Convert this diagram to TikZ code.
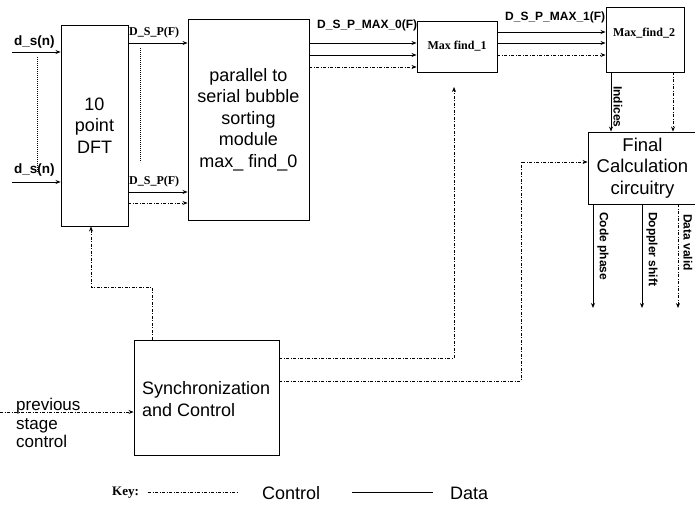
\documentclass[tikz,border=0pt]{standalone}
\usepackage{fontspec}
\setmainfont{Liberation Sans}
\newfontfamily\serifbold{Liberation Serif}
\usetikzlibrary{arrows.meta}

\begin{document}
\begin{tikzpicture}[x=1pt,y=-1pt,
  box/.style={draw, line width=0.9pt, inner sep=0pt, align=center,
    font=\fontsize{18}{21.5}\selectfont},
  data/.style={line width=0.9pt, -{Stealth[length=5pt,width=4pt]}},
  ctrl/.style={line width=0.7pt, dash pattern=on 3pt off 1.6pt on 0.8pt off 1.6pt,
    -{Stealth[length=5pt,width=4pt]}},
  ctrlline/.style={line width=0.7pt, dash pattern=on 3pt off 1.6pt on 0.8pt off 1.6pt},
  dots/.style={line width=0.7pt, dash pattern=on 0.8pt off 1.2pt},
  sig/.style={font=\bfseries\fontsize{12}{14}\selectfont, inner sep=0pt},
  sigbig/.style={font=\bfseries\fontsize{13.5}{15}\selectfont, inner sep=0pt},
  sigserif/.style={font=\serifbold\bfseries\fontsize{12}{14}\selectfont, inner sep=0pt},
  plain/.style={inner sep=0pt, align=left, font=\fontsize{18}{22}\selectfont}]

\useasboundingbox (0,0) rectangle (695,504);

% ---- blocks ----
\node[box, minimum width=67pt, minimum height=201pt] (dft) at (94.5,125.5)
  {10\\point\\DFT};
\node[box, minimum width=121pt, minimum height=201pt] (sort) at (248.5,119.5)
  {parallel to\\serial bubble\\sorting\\module\\max\_ find\_0};
\node[box, minimum width=80pt, minimum height=51pt, font=\serifbold\bfseries\fontsize{12}{14}\selectfont]
  (mf1) at (457,46.5) {Max find\_1};
\node[box, minimum width=78pt, minimum height=65pt] (mf2) at (645,39.5) {};
\node[sigserif] (mf2txt) at (644,33) {Max\_find\_2};
\node[box, minimum width=109pt, minimum height=72pt, font=\fontsize{18.5}{21.5}\selectfont]
  (fin) at (642.5,168) {Final\\Calculation\\circuitry};
\node[box, minimum width=145pt, minimum height=115pt] (sync) at (206.5,397.5) {};
\node[plain, anchor=west] (synctxt) at (142,399) {Synchronization\\and Control};

% ---- level coordinates ----
\coordinate (in1) at (12,52);
\coordinate (in2) at (12,182);
\coordinate (ya) at (0,43);
\coordinate (yb) at (0,192);
\coordinate (yc) at (0,203);
\coordinate (yd) at (0,55);
\coordinate (ye) at (0,67);
\coordinate (yf) at (0,32);
\coordinate (xind) at (611,0);
\coordinate (xval) at (673,0);

% ---- inputs to the DFT ----
\draw[data] (in1) -- (in1 -| dft.west);
\draw[data] (in2) -- (in2 -| dft.west);
\node[sigbig, anchor=west] (ds1) at (14,42) {d\_s(n)};
\node[sigbig, anchor=west] (ds2) at (14,170) {d\_s(n)};
\coordinate (dot1a) at (37,57);
\coordinate (dot1b) at (37,173);
\draw[dots] (dot1a) -- (dot1b);

% ---- DFT to sorting module ----
\draw[data] (dft.east |- ya) -- (sort.west |- ya);
\draw[data] (dft.east |- yb) -- (sort.west |- yb);
\draw[ctrl] (dft.east |- yc) -- (sort.west |- yc);
\node[sigserif, anchor=west] (dsp1) at (129,33) {D\_S\_P(F)};
\node[sigserif, anchor=west] (dsp2) at (129,182) {D\_S\_P(F)};
\coordinate (dot2a) at (140,48);
\coordinate (dot2b) at (140,162);
\draw[dots] (dot2a) -- (dot2b);

% ---- sorting module to Max find_1 ----
\draw[data] (sort.east |- ya) -- (mf1.west |- ya);
\draw[data] (sort.east |- yd) -- (mf1.west |- yd);
\draw[ctrl] (sort.east |- ye) -- (mf1.west |- ye);
\node[sig, anchor=west] (dspm0) at (317,25) {D\_S\_P\_MAX\_0(F)};

% ---- Max find_1 to Max_find_2 ----
\draw[data] (mf1.east |- yf) -- (mf2.west |- yf);
\draw[data] (mf1.east |- ya) -- (mf2.west |- ya);
\draw[ctrl] (mf1.east |- yd) -- (mf2.west |- yd);
\node[sig, anchor=west] (dspm1) at (505,17) {D\_S\_P\_MAX\_1(F)};

% ---- Max_find_2 to final calculation ----
\draw[data] (mf2.south -| xind) -- (fin.north -| xind);
\draw[ctrl] (mf2.south -| xval) -- (fin.north -| xval);
\node[sig, rotate=-90, anchor=west] (ind) at (618,86) {Indices};

% ---- outputs of the final calculation ----
\coordinate (o1) at (593,308);
\coordinate (o2) at (642,308);
\coordinate (o3) at (678,308);
\draw[data] (fin.south -| o1) -- (o1);
\draw[data] (fin.south -| o2) -- (o2);
\draw[ctrl] (fin.south -| o3) -- (o3);
\node[sig, rotate=-90, anchor=west] (code) at (603,212) {Code phase};
\node[sig, rotate=-90, anchor=west] (dopp) at (652,212) {Doppler shift};
\node[sig, rotate=-90, anchor=west] (valid) at (688,214) {Data valid};

% ---- control paths from synchronization ----
\coordinate (s1) at (152,287);
\coordinate (s2) at (91,287);
\draw[ctrl] (sync.north -| s1) -- (s1) -- (s2) -- (dft.south -| s2);

\coordinate (s3) at (454,358);
\coordinate (s4) at (454,87);
\draw[ctrl] (sync.east |- s3) -- (s3) -- (s4);

\coordinate (s5) at (521,381);
\coordinate (s6) at (521,162);
\draw[ctrl] (sync.east |- s5) -- (s5) -- (s6) -- (fin.west |- s6);

\coordinate (prev) at (0,412);
\draw[ctrl] (prev) -- (sync.west |- prev);
\node[inner sep=0pt, align=left, anchor=west, font=\fontsize{17}{18.5}\selectfont]
  (prevtxt) at (16,423) {previous\\stage\\control};

% ---- key ----
\node[font=\serifbold\bfseries\fontsize{13}{15}\selectfont, inner sep=0pt, anchor=west]
  (key) at (112,493) {Key:};
\coordinate (k1) at (148,492);
\coordinate (k2) at (237,492);
\draw[ctrlline] (k1) -- (k2);
\node[plain, anchor=west] (kctrl) at (262,493) {Control};
\coordinate (k3) at (352,492);
\coordinate (k4) at (433,492);
\draw[line width=0.9pt] (k3) -- (k4);
\node[plain, anchor=west] (kdata) at (450,493) {Data};
\end{tikzpicture}
\end{document}
